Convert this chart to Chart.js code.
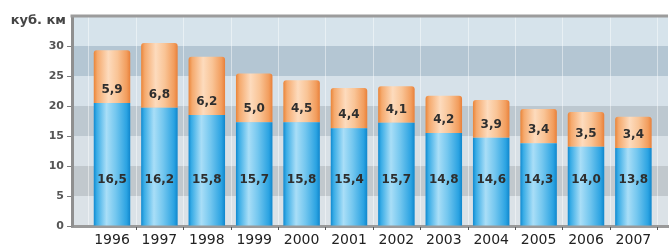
<html lang="ru">
<head>
<meta charset="utf-8" />
<title>Объём, куб. км</title>
<style>
  * { margin: 0; padding: 0; box-sizing: border-box; }
  body { background: #ffffff; width: 670px; height: 250px; overflow: hidden; }
  #chart { display: block; }
</style>
</head>
<body>
<canvas id="chart" width="670" height="250"></canvas>
<script src="https://cdn.jsdelivr.net/npm/chart.js@4.4.1/dist/chart.umd.min.js"></script>
<script>
// Years on the x axis
const years = ["1996", "1997", "1998", "1999", "2000", "2001", "2002", "2003", "2004", "2005", "2006", "2007"];

// Numbers printed inside the bars
const blueLabels = [16.5, 16.2, 15.8, 15.7, 15.8, 15.4, 15.7, 14.8, 14.6, 14.3, 14.0, 13.8];
const orangeLabels = [5.9, 6.8, 6.2, 5.0, 4.5, 4.4, 4.1, 4.2, 3.9, 3.4, 3.5, 3.4];

// Segment heights as drawn in the picture
const blueHeights = [20.5, 19.7, 18.5, 17.3, 17.3, 16.3, 17.2, 15.5, 14.7, 13.8, 13.2, 13.0];
const orangeHeights = [8.8, 10.8, 9.7, 8.1, 7.0, 6.7, 6.1, 6.2, 6.3, 5.7, 5.8, 5.2];

// Y axis tick labels
const yTickValues = [0, 5, 10, 15, 20, 25, 30];
const unitLabel = "куб. км";

const BAR_PCT = 0.77;

const blueStops = [[0, "#1189cf"], [0.08, "#38ace6"], [0.35, "#a9def7"], [0.6, "#74c7ef"], [0.9, "#2ba3e2"], [1, "#0f86cc"]];
const orangeStops = [[0, "#ea8438"], [0.1, "#f5aa6e"], [0.4, "#fddbbd"], [0.65, "#f9c496"], [0.9, "#f29d5d"], [1, "#e8803a"]];

function fmt(v) {
    return v.toFixed(1).replace(".", ",");
}

// Horizontal shading repeated for every bar
function barGradient(ctx, stops) {
    const chart = ctx.chart;
    const area = chart.chartArea;
    const x = chart.scales.x;
    if (!area || !x) return stops[2][1];
    const g = chart.ctx.createLinearGradient(area.left, 0, area.right, 0);
    const half = (x.getPixelForValue(1) - x.getPixelForValue(0)) * BAR_PCT / 2;
    const w = area.right - area.left;
    years.forEach((_, i) => {
        const c = x.getPixelForValue(i);
        stops.forEach(([f, col]) => {
            const px = c - half + f * 2 * half;
            g.addColorStop(Math.min(1, Math.max(0, (px - area.left) / w)), col);
        });
    });
    return g;
}

// Background bands, vertical grid, top frame line
const backdrop = {
    id: "backdrop",
    beforeDraw(chart) {
        const { ctx, chartArea: a, scales: { x, y } } = chart;
        const light = ["#dbe2e7", "#d8e0e6", "#d6e1e9", "#d6e3eb"];
        const dark = ["#c1c8cd", "#bdc8d0", "#b4c6d3"];
        ctx.save();
        for (let k = 0; k < 7; k++) {
            const top = y.getPixelForValue(k * 5 + 5);
            const bot = y.getPixelForValue(k * 5);
            ctx.fillStyle = k % 2 === 0 ? light[k / 2] : dark[(k - 1) / 2];
            ctx.fillRect(a.left, top, a.right - a.left, bot - top);
        }
        ctx.strokeStyle = "rgba(255,255,255,0.45)";
        ctx.lineWidth = 1;
        for (let i = -1; i < years.length; i++) {
            const px = Math.round(x.getPixelForValue(i + 0.5)) + 0.5;
            ctx.beginPath();
            ctx.moveTo(px, a.top);
            ctx.lineTo(px, a.bottom);
            ctx.stroke();
        }
        ctx.restore();
    },
    afterDraw(chart) {
        const { ctx, chartArea: a, scales: { x } } = chart;
        ctx.save();
        ctx.strokeStyle = "#9c9c9c";
        ctx.lineWidth = 3;
        ctx.beginPath();
        ctx.moveTo(a.left - 1.5, a.top);
        ctx.lineTo(a.right, a.top);
        ctx.stroke();
        // small ticks between the years
        ctx.strokeStyle = "#555";
        ctx.lineWidth = 1;
        for (let i = 0; i < years.length; i++) {
            const px = Math.round(x.getPixelForValue(i + 0.5)) + 0.5;
            ctx.beginPath();
            ctx.moveTo(px, a.bottom + 1);
            ctx.lineTo(px, a.bottom + 4);
            ctx.stroke();
        }
        // unit label
        ctx.fillStyle = "#444";
        ctx.font = "bold 13px 'DejaVu Sans'";
        ctx.textAlign = "right";
        ctx.textBaseline = "middle";
        ctx.fillText(unitLabel, 66, 21);
        ctx.restore();
    }
};

// Values printed in the bars
const barLabels = {
    id: "barLabels",
    afterDatasetsDraw(chart) {
        const { ctx, scales: { y } } = chart;
        ctx.save();
        ctx.fillStyle = "#2e2e2e";
        ctx.font = "bold 12px 'DejaVu Sans'";
        ctx.textAlign = "center";
        ctx.textBaseline = "middle";
        chart.getDatasetMeta(0).data.forEach((el, i) => {
            ctx.fillText(fmt(blueLabels[i]), el.x, y.getPixelForValue(7.7));
        });
        chart.getDatasetMeta(1).data.forEach((el, i) => {
            ctx.fillText(fmt(orangeLabels[i]), el.x, el.base - 13);
        });
        ctx.restore();
    }
};

new Chart(document.getElementById("chart"), {
    type: "bar",
    plugins: [backdrop, barLabels],
    data: {
        datasets: [
            {
                data: blueHeights.map((v, i) => ({ x: i, y: v })),
                backgroundColor: (ctx) => barGradient(ctx, blueStops),
                borderWidth: 0,
                barPercentage: BAR_PCT,
                categoryPercentage: 1
            },
            {
                data: orangeHeights.map((v, i) => ({ x: i, y: v })),
                backgroundColor: (ctx) => barGradient(ctx, orangeStops),
                borderWidth: 0,
                borderRadius: 3,
                barPercentage: BAR_PCT,
                categoryPercentage: 1
            }
        ]
    },
    options: {
        responsive: false,
        animation: false,
        layout: { padding: { top: 16, right: 2, left: 0, bottom: 0 } },
        plugins: { legend: { display: false }, tooltip: { enabled: false } },
        scales: {
            x: {
                type: "linear",
                stacked: true,
                offset: false,
                min: -0.844,
                max: 11.73,
                afterBuildTicks: (axis) => { axis.ticks = years.map((_, i) => ({ value: i })); },
                afterFit: (axis) => { axis.height = 24; },
                grid: { display: false, drawTicks: false, offset: false },
                border: { color: "#9a9a9a", width: 3 },
                ticks: {
                    padding: 6,
                    maxRotation: 0,
                    autoSkip: false,
                    color: "#222",
                    font: { family: "DejaVu Sans", size: 14 },
                    callback: (v) => years[v]
                }
            },
            y: {
                stacked: true,
                min: 0,
                max: 35,
                afterBuildTicks: (axis) => { axis.ticks = yTickValues.map((v) => ({ value: v })); },
                afterFit: (axis) => { axis.width = 72; },
                grid: { drawOnChartArea: false, tickLength: 5, color: "#7d7d7d" },
                border: { color: "#8f8f8f", width: 3 },
                ticks: {
                    padding: 3,
                    color: "#555",
                    font: { family: "DejaVu Sans", size: 11, weight: "bold" }
                }
            }
        }
    }
});
</script>
</body>
</html>
